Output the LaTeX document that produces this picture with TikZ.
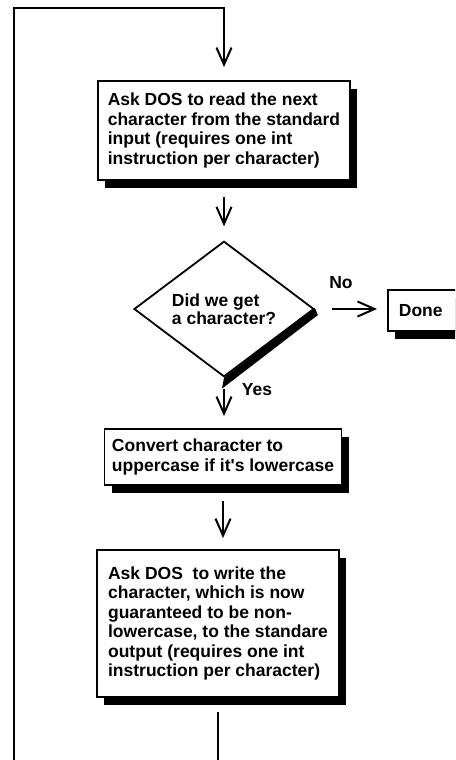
\documentclass[tikz,border=0pt]{standalone}
\usepackage{fontspec}
\setmainfont{Liberation Sans}
\usepackage{tikz}
\usetikzlibrary{arrows.meta, shapes.geometric, shadows, calc}

\begin{document}
\begin{tikzpicture}[x=1pt, y=-1pt, >={Straight Barb[length=17pt,width=15pt]},
  flow/.style={line width=2pt},
  box/.style={draw, line width=1.8pt, fill=white, align=left, inner sep=0pt,
    font=\fontsize{17.5}{19.5}\selectfont\bfseries,
    drop shadow={shadow xshift=7pt, shadow yshift=-8pt, fill=black, opacity=1}},
  lbl/.style={font=\fontsize{17.5}{19.5}\selectfont\bfseries, inner sep=0pt}]
  \useasboundingbox (0,0) rectangle (455,760);
  \clip (0,0) rectangle (455,760);

  \node[box, minimum width=252pt, minimum height=99pt] (read) at (224,130.5)
    {Ask DOS to read the next\\character from the standard\\input (requires one int\\instruction per character)};
  \node[draw, line width=1.8pt, fill=white, diamond, minimum width=180pt, minimum height=112pt,
    inner sep=0pt, align=left, font=\fontsize{17.5}{18.5}\selectfont\bfseries] (got) at (224,309)
    {Did we get\\a character?};
  \fill ($(got.east)+(0,-1)$) -- ($(got.east)+(3,6)$) -- ($(got.south)+(-2,11)$) -- (got.south) -- cycle;
  \node[box, anchor=west, text width=58pt, inner xsep=11pt, minimum height=41pt] (done) at (387,310.5) {Done};
  \node[box, minimum width=237pt, minimum height=56pt] (upper) at (223,457)
    {Convert character to\\uppercase if it\textquotesingle s lowercase};
  \node[box, minimum width=242pt, minimum height=147pt] (write) at (218,623.5)
    {Ask DOS\ \ to write the\\character, which is now\\guaranteed to be non-\\lowercase, to the standare\\output (requires one int\\instruction per character)};

  \coordinate (topleft) at (14,8);
  \coordinate (botleft) at (14,760);

  % connectors
  \draw[flow, ->, shorten >=13pt] (botleft) -- (topleft) -| (read.north);
  \draw[flow, ->, shorten <=16pt, shorten >=14pt] (read.south) -- (read.south |- got.north);
  \draw[flow, ->, shorten <=17pt, shorten >=10pt] (got.east) -- (got.east -| done.west);
  \draw[flow, ->, shorten <=11pt, shorten >=12pt] (got.south) -- (got.south |- upper.north);
  \draw[flow, ->, shorten <=15pt, shorten >=11pt] (upper.south) -- (upper.south |- write.north);
  \draw[flow, shorten <=14pt] (write.south) -- (write.south |- botleft);

  \node[lbl] (no) at (341,283) {No};
  \node[lbl] (yes) at (257,390) {Yes};
\end{tikzpicture}
\end{document}
